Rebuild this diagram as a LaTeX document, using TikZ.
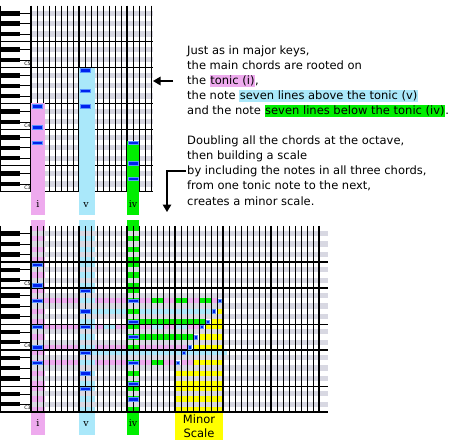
\documentclass[tikz,border=0pt]{standalone}
\usepackage{fontspec}
\setmainfont{DejaVu Sans}
\newfontfamily\labelfont{DejaVu Serif}
\usetikzlibrary{arrows.meta}
\definecolor{pinkc}{RGB}{238,170,238}
\definecolor{cyanc}{RGB}{170,232,250}
\definecolor{greenc}{RGB}{0,238,0}
\definecolor{yellowc}{RGB}{255,255,0}
\definecolor{grayc}{RGB}{216,216,226}
\definecolor{notefill}{RGB}{0,34,238}
\definecolor{noteedge}{RGB}{90,150,255}
\newcommand\hl[2]{{\setlength{\fboxsep}{0.6pt}\colorbox{#1}{\vphantom{Jg()}#2}}}
% row stripe in bottom grid: colour, x1, x2, row
\newcommand\rowseg[4]{\fill[#1] (#2,{412-(#4+1)*5.17}) rectangle (#3,{412-#4*5.17});}
\tikzset{
  thinv/.style={line width=0.75pt, black},
  thickv/.style={line width=1.5pt, black},
  hline/.style={line width=1.2pt, black},
  keyline/.style={line width=0.7pt, black},
  chordnote/.style={fill=notefill, draw=noteedge, line width=0.5pt},
  scalenote/.style={fill=notefill, draw=noteedge, line width=0.4pt},
  arr/.style={line width=1.4pt, -{Triangle[length=7.5pt,width=8.5pt]}},
  collabel/.style={font=\labelfont\fontsize{9.5}{11}\selectfont, anchor=base, inner sep=0pt},
  txt/.style={anchor=base west, inner sep=0pt, font=\fontsize{11.5}{14}\selectfont},
  clabel/.style={anchor=east, inner sep=0pt, font=\fontsize{4.8}{5}\selectfont},
  scalelabel/.style={anchor=base, inner sep=0pt, font=\fontsize{11.5}{14}\selectfont},
}
\begin{document}
\begin{tikzpicture}[x=1pt,y=-1pt]
\useasboundingbox (0,0) rectangle (458,442);
\fill[white] (0,0) rectangle (458,442);

%%%%%%%%%%%%%%%% TOP GRID (bottom edge 191.7) %%%%%%%%%%%%%%%%
\foreach \o in {0,1,2}{\foreach \s in {1,3,6,8,10}{
  \pgfmathsetmacro\rr{12*\o+\s}
  \fill[grayc] (31,{191.7-(\rr+1)*5.17}) rectangle (153,{191.7-\rr*5.17});
  \pgfmathsetmacro\yc{191.7-(\rr+0.5)*5.17}
  \fill[black] (0,\yc-2.2) rectangle (20,\yc+2.2);
  \draw[keyline] (20,\yc) -- (31,\yc);
}}
\foreach \cc in {0,...,20}{
  \pgfmathtruncatemacro\m{mod(\cc,8)}
  \ifnum\m=0 \draw[thickv] (31+6*\cc,5.6) -- (31+6*\cc,191.7);
  \else \draw[thinv] (31+6*\cc,5.6) -- (31+6*\cc,191.7); \fi
}
\foreach \rw in {0,5,12,17,24,29}{
  \draw[hline] (0,{191.7-\rw*5.17}) -- (153,{191.7-\rw*5.17});
}
\draw[thinv] (0.4,5.6) -- (0.4,191.7);
\node[clabel] (c5a) at (31,63.5) {C5};
\node[clabel] (c4a) at (31,125.5) {C4};
\node[clabel] (c3a) at (31,187.6) {C3};

% chord columns
\fill[pinkc] (31,103) rectangle (45,215);
\fill[cyanc] (78.5,67.5) rectangle (95,215);
\fill[greenc] (127,140.5) rectangle (139,215);
\foreach \cc/\rw in {0/9,0/12,0/16,8/16,8/19,8/23,16/2,16/5,16/9}{
  \pgfmathsetmacro\yc{191.7-(\rw+0.5)*5.17}
  \draw[chordnote] (32+6*\cc,\yc-1.7) rectangle (42.5+6*\cc,\yc+1.7);
}
\node[collabel] (li1) at (38,207) {i};
\node[collabel] (lv1) at (86,207) {v};
\node[collabel] (liv1) at (133,207) {iv};

%%%%%%%%%%%%%%%% BOTTOM GRID (bottom edge 412) %%%%%%%%%%%%%%%%
% row stripes (chord tones between the two tonics)
\rowseg{pinkc}{45}{151}{21}
\rowseg{greenc}{151}{163}{21}
\rowseg{pinkc}{163}{175}{21}
\rowseg{greenc}{175}{187}{21}
\rowseg{pinkc}{187}{199}{21}
\rowseg{greenc}{199}{211}{21}
\rowseg{pinkc}{211}{218}{21}
\rowseg{cyanc}{95}{212}{19}
\rowseg{greenc}{139}{206}{17}
\rowseg{pinkc}{45}{103}{16}
\rowseg{cyanc}{103}{115}{16}
\rowseg{pinkc}{115}{151}{16}
\rowseg{cyanc}{151}{163}{16}
\rowseg{pinkc}{163}{175}{16}
\rowseg{cyanc}{175}{187}{16}
\rowseg{pinkc}{187}{200}{16}
\rowseg{greenc}{139}{194}{14}
\rowseg{pinkc}{45}{188}{12}
\rowseg{pinkc}{45}{151}{9}
\rowseg{greenc}{151}{163}{9}
\rowseg{pinkc}{163}{176}{9}

% chord columns
\fill[pinkc] (31,220) rectangle (45,435);
\fill[cyanc] (78.5,220) rectangle (95,435);
\fill[greenc] (127,220) rectangle (139,435);

% minor scale (yellow staircase)
\foreach \xs/\rw in {217/20,217/19,211/18,211/17,205/16,199/15,199/14,193/13,193/12,187/11,181/10,181/9}{
  \rowseg{yellowc}{\xs}{223}{\rw}
}
\fill[yellowc] (175,{412-9*5.17}) rectangle (223,440);
\rowseg{cyanc}{95}{227}{11}
\rowseg{pinkc}{181}{193}{9}

% gray stripes and keyboard
\foreach \o in {0,1,2}{\foreach \s in {1,3,6,8,10}{
  \pgfmathsetmacro\rr{12*\o+\s}
  \fill[grayc] (31,{412-(\rr+1)*5.17}) rectangle (328,{412-\rr*5.17});
  \pgfmathsetmacro\yc{412-(\rr+0.5)*5.17}
  \fill[black] (0,\yc-2.2) rectangle (20,\yc+2.2);
  \draw[keyline] (20,\yc) -- (31,\yc);
}}
\foreach \cc in {0,...,48}{
  \pgfmathtruncatemacro\m{mod(\cc,8)}
  \ifnum\m=0 \draw[thickv] (31+6*\cc,225.9) -- (31+6*\cc,412);
  \else \draw[thinv] (31+6*\cc,225.9) -- (31+6*\cc,412); \fi
}
\foreach \rw in {0,5,12,17,24,29}{
  \draw[hline] (0,{412-\rw*5.17}) -- (328,{412-\rw*5.17});
}
\draw[thinv] (0.4,225.9) -- (0.4,412);
\node[clabel] (c5b) at (31,283.8) {C5};
\node[clabel] (c4b) at (31,345.8) {C4};
\node[clabel] (c3b) at (31,407.9) {C3};

% chord notes doubled at the octave
\foreach \cc/\rw in {0/9,0/12,0/16,0/21,0/24,0/28,
                     8/4,8/7,8/11,8/16,8/19,8/23,
                     16/2,16/5,16/9,16/14,16/17,16/21}{
  \pgfmathsetmacro\yc{412-(\rw+0.5)*5.17}
  \draw[chordnote] (32+6*\cc,\yc-1.7) rectangle (42.5+6*\cc,\yc+1.7);
}
% scale notes
\foreach \cc/\rw in {24/9,25/11,26/12,27/14,28/16,29/17,30/19,31/21}{
  \pgfmathsetmacro\yc{412-(\rw+0.5)*5.17}
  \draw[scalenote] (32+6*\cc,\yc-1.8) rectangle (35.5+6*\cc,\yc+1.8);
}
\node[collabel] (li2) at (38,426) {i};
\node[collabel] (lv2) at (86,426) {v};
\node[collabel] (liv2) at (133,426) {iv};
\node[scalelabel] (ms1) at (199,423.3) {Minor};
\node[scalelabel] (ms2) at (199,437.5) {Scale};

%%%%%%%%%%%%%%%% TEXT %%%%%%%%%%%%%%%%
\node[txt] (t1) at (187,54) {Just as in major keys,};
\node[txt] (t2) at (187,69.1) {the main chords are rooted on};
\node[txt] (t3) at (187,84.2) {the \hl{pinkc}{tonic (i)},};
\node[txt] (t4) at (187,99.3) {the note \hl{cyanc}{seven lines above the tonic (v)}};
\node[txt] (t5) at (187,114.4) {and the note \hl{greenc}{seven lines below the tonic (iv)}.};
\node[txt] (t6) at (187,144.6) {Doubling all the chords at the octave,};
\node[txt] (t7) at (187,159.7) {then building a scale};
\node[txt] (t8) at (187,174.8) {by including the notes in all three chords,};
\node[txt] (t9) at (187,189.9) {from one tonic note to the next,};
\node[txt] (t10) at (187,205) {creates a minor scale.};

% arrows
\coordinate (a1s) at (173,81);
\coordinate (a1e) at (153,81);
\draw[arr] (a1s) -- (a1e);
\coordinate (a2s) at (186,171);
\coordinate (a2m) at (167,171);
\coordinate (a2e) at (167,212);
\draw[arr] (a2s) -- (a2m) -- (a2e);
\end{tikzpicture}
\end{document}
